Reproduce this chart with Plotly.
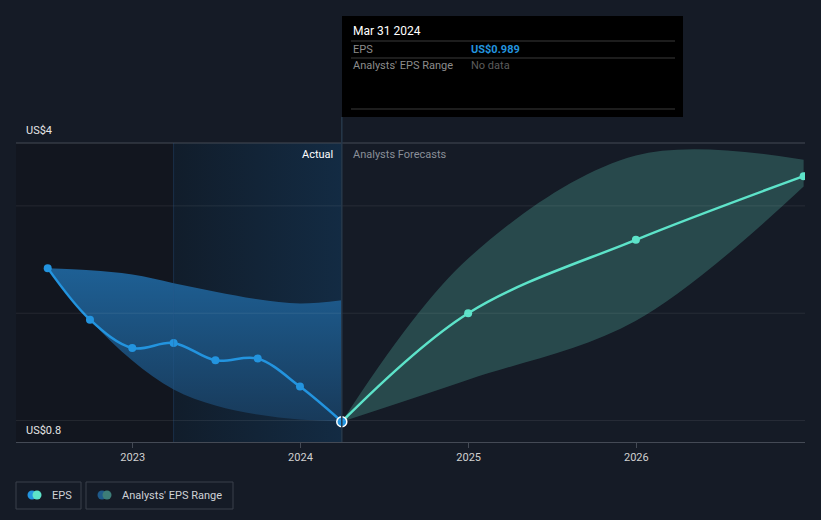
import plotly.graph_objects as go

# ---- data ----
eps_dates = ["2022-06-30", "2022-09-30", "2022-12-31", "2023-03-31",
             "2023-06-30", "2023-09-30", "2023-12-31", "2024-03-31"]
eps_values = [2.42, 1.94, 1.676, 1.723, 1.561, 1.577, 1.316, 0.989]
past_range_upper = [2.42, 2.40, 2.36, 2.28, 2.20, 2.13, 2.09, 2.12]
past_range_lower = [2.42, 1.94, 1.56, 1.29, 1.14, 1.056, 1.009, 0.99]

fc_dates = ["2024-03-31", "2024-12-31", "2025-12-31", "2026-12-31"]
fc_values = [0.989, 2.00, 2.684, 3.277]
fc_upper = [0.989, 2.51, 3.47, 3.43]
fc_lower = [0.989, 1.38, 1.93, 3.18]

x_ticks = ["2023-01-01", "2024-01-01", "2025-01-01", "2026-01-01"]
x_tick_labels = ["2023", "2024", "2025", "2026"]
y_grid = [1, 2, 3]
y_range = [0.8, 3.586]
x_range = ["2022-04-22", "2027-01-03"]

BG = "#151b26"
W, H = 821, 520
L, R, T, B = 16, 16, 143, 78
PW, PH = W - L - R, H - T - B


def px(x):
    return (x - L) / PW


def py(y):
    return (H - B - y) / PH


fig = go.Figure()

# shaded background regions
fig.add_trace(go.Scatter(
    x=[x_range[0], "2023-03-31", "2023-03-31", x_range[0], x_range[0]],
    y=[y_range[0], y_range[0], y_range[1], y_range[1], y_range[0]],
    fill="toself", fillcolor="#12161f", line=dict(width=0),
    mode="lines", hoverinfo="skip", showlegend=False))
fig.add_trace(go.Scatter(
    x=["2023-03-31", "2024-03-31", "2024-03-31", "2023-03-31", "2023-03-31"],
    y=[y_range[0], y_range[0], y_range[1], y_range[1], y_range[0]],
    fill="toself", line=dict(width=0), mode="lines",
    fillgradient=dict(type="horizontal",
                      colorscale=[[0, "#111d2b"], [1, "#132b43"]]),
    hoverinfo="skip", showlegend=False))

# past analysts range
fig.add_trace(go.Scatter(x=eps_dates, y=past_range_upper, mode="lines",
                         line=dict(width=0, shape="spline"),
                         hoverinfo="skip", showlegend=False))
fig.add_trace(go.Scatter(x=eps_dates, y=past_range_lower, mode="lines",
                         line=dict(width=0, shape="spline"), fill="tonexty",
                         fillgradient=dict(type="vertical",
                                           colorscale=[[0, "#183a5a"], [1, "#1e6095"]]),
                         hoverinfo="skip", showlegend=False))

# forecast range
fig.add_trace(go.Scatter(x=fc_dates, y=fc_upper, mode="lines",
                         line=dict(width=0, shape="spline"),
                         hoverinfo="skip", showlegend=False))
fig.add_trace(go.Scatter(x=fc_dates, y=fc_lower, mode="lines",
                         line=dict(width=0, shape="spline"), fill="tonexty",
                         fillcolor="rgba(70,150,140,0.38)",
                         hoverinfo="skip", showlegend=False))

# EPS lines
fig.add_trace(go.Scatter(x=eps_dates, y=eps_values, mode="lines+markers",
                         line=dict(color="#2394df", width=2.5, shape="spline"),
                         marker=dict(size=8, color="#2394df"),
                         name="EPS", showlegend=False))
fig.add_trace(go.Scatter(x=fc_dates, y=fc_values, mode="lines+markers",
                         line=dict(color="#5de3c9", width=2.5, shape="spline"),
                         marker=dict(size=8, color="#5de3c9"),
                         name="EPS forecast", showlegend=False))
# highlighted point
fig.add_trace(go.Scatter(x=[eps_dates[-1]], y=[eps_values[-1]], mode="markers",
                         marker=dict(size=10, color="#2394df",
                                     line=dict(color="#ffffff", width=1.5)),
                         showlegend=False, hoverinfo="skip"))

shapes = []
# gridlines drawn over the shaded areas
for g in y_grid:
    shapes.append(dict(type="line", xref="paper", yref="y", x0=0, x1=1, y0=g, y1=g,
                       line=dict(color="rgba(255,255,255,0.08)", width=1), layer="above"))
# top line
shapes.append(dict(type="line", xref="paper", yref="paper", x0=0, x1=1, y0=1, y1=1,
                   line=dict(color="#444a55", width=1)))
# divider between regions
shapes.append(dict(type="line", xref="x", yref="paper", x0="2023-03-31", x1="2023-03-31",
                   y0=0, y1=1, line=dict(color="rgba(40,90,140,0.35)", width=1)))
# hover vertical line
shapes.append(dict(type="line", xref="x", yref="paper", x0="2024-03-31", x1="2024-03-31",
                   y0=0, y1=py(117), line=dict(color="#26384a", width=1.5)))
# tooltip box
shapes.append(dict(type="rect", xref="paper", yref="paper", x0=px(342), x1=px(683),
                   y0=py(117), y1=py(16), fillcolor="#000000", line=dict(width=0),
                   layer="above"))
for yy in (41, 58, 109):
    shapes.append(dict(type="line", xref="paper", yref="paper", x0=px(351), x1=px(675),
                       y0=py(yy), y1=py(yy), line=dict(color="#3a3a3a", width=1),
                       layer="above"))
# legend boxes
for x0, x1 in ((16, 81), (86, 233)):
    shapes.append(dict(type="rect", xref="paper", yref="paper", x0=px(x0), x1=px(x1),
                       y0=py(509), y1=py(482), line=dict(color="#3b404a", width=1),
                       fillcolor="rgba(0,0,0,0)"))
for cx, col in ((32, "#2394df"), (37, "#5de3c9"), (102, "#1f5a8a"), (107, "#3d7d78")):
    shapes.append(dict(type="circle", xref="paper", yref="paper",
                       x0=px(cx - 4.5), x1=px(cx + 4.5), y0=py(499.5), y1=py(490.5),
                       fillcolor=col, line=dict(width=0)))

ann = []


def text(x, y, s, color, size=11, anchor="left", bold=False):
    if bold:
        s = "<b>" + s + "</b>"
    ann.append(dict(xref="paper", yref="paper", x=px(x), y=py(y), text=s,
                    showarrow=False, xanchor=anchor, yanchor="middle",
                    font=dict(color=color, size=size, family="Roboto")))


text(24, 130, "US$4", "#e6e6e6")
text(24, 430, "US$0.8", "#e6e6e6")
text(335, 154, "Actual", "#ffffff", anchor="right")
text(351, 154, "Analysts Forecasts", "#8a8f98")
text(351, 31, "Mar 31 2024", "#ffffff", size=12)
text(351, 49, "EPS", "#8c8c8c")
text(469, 49, "US$0.989", "#2394df", bold=True)
text(351, 66, "Analysts' EPS Range", "#8c8c8c")
text(469, 66, "No data", "#5c5c5c")
text(50, 495, "EPS", "#cfd2d6")
text(120, 495, "Analysts' EPS Range", "#cfd2d6")

fig.update_layout(
    width=W, height=H, margin=dict(l=L, r=R, t=T, b=B),
    paper_bgcolor=BG, plot_bgcolor=BG,
    shapes=shapes, annotations=ann, showlegend=False,
    font=dict(family="Roboto", color="#d0d0d0", size=11),
    xaxis=dict(type="date", range=x_range, tickvals=x_ticks, ticktext=x_tick_labels,
               showgrid=False, zeroline=False, showline=True, linecolor="#444a55",
               ticks="outside", ticklen=5, tickcolor="#444a55",
               tickfont=dict(color="#d0d0d0", size=11), fixedrange=True),
    yaxis=dict(range=y_range, tickvals=y_grid, showticklabels=False,
               showgrid=False, zeroline=False, showline=False,
               fixedrange=True),
)

fig.write_html("out.html")
